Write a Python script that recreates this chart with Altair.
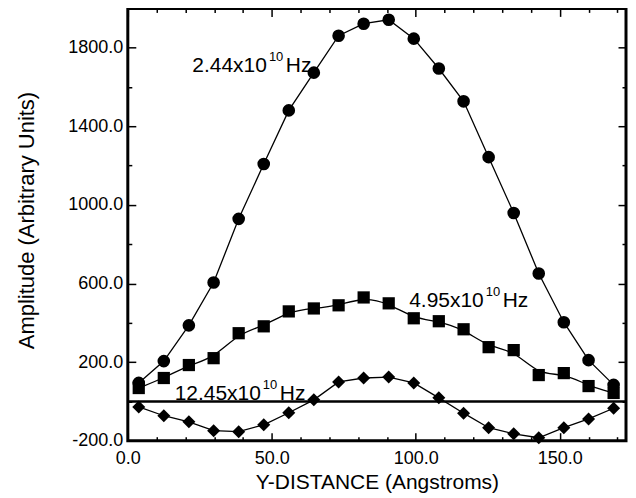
import altair as alt
import pandas as pd

# ---- data ----
x_pos = [3.8, 12.5, 21.2, 29.8, 38.5, 47.2, 55.9, 64.6, 73.2, 81.9,
         90.6, 99.3, 108.0, 116.6, 125.3, 134.0, 142.7, 151.4, 160.0, 168.7]
amp_244 = [94, 205, 387, 605, 929, 1208, 1481, 1673, 1861, 1922,
           1942, 1846, 1694, 1527, 1243, 959, 651, 403, 210, 84]
amp_495 = [68, 119, 185, 220, 347, 382, 458, 473, 489, 529,
           499, 423, 408, 367, 276, 261, 134, 144, 78, 43]
amp_1245 = [-28, -73, -104, -149, -154, -119, -58, 8, 99, 119,
            124, 94, 18, -60, -134, -165, -185, -134, -89, -35]

label_main = ["2.44x10", "4.95x10", "12.45x10"]
label_sup = ["10", "10", "10"]
label_unit = ["Hz", "Hz", "Hz"]
label_x = [48.3, 123.6, 46.2]
label_y = [1678, 478, 8]

x_label_values = [0, 50, 100, 150]
x_tick_values = [0, 10, 20, 30, 40, 50, 60, 70, 80, 90, 100, 110, 120, 130, 140, 150, 160, 170]
y_label_values = [-200, 200, 600, 1000, 1400, 1800]
y_tick_values = [-200, 0, 200, 400, 600, 800, 1000, 1200, 1400, 1600, 1800, 2000]
zero_level = [0]

# ---- layout ----
W, H = 499, 433
FONT = "Liberation Sans"
xs = alt.Scale(domain=[0, 173], nice=False, zero=False)
ys = alt.Scale(domain=[-200, 2000], nice=False, zero=False)

df244 = pd.DataFrame({"x": x_pos, "y": amp_244})
df495 = pd.DataFrame({"x": x_pos, "y": amp_495})
df1245 = pd.DataFrame({"x": x_pos, "y": amp_1245})
dflab = pd.DataFrame({"x": label_x, "y": label_y, "main": label_main,
                      "sup": label_sup, "unit": label_unit})
dfzero = pd.DataFrame({"y": zero_level})

x_major = "datum.value % 50 === 0"
y_major = "(datum.value + 200) % 400 === 0"


def tick_axis(orient, offset, values, test):
    return alt.Axis(orient=orient, offset=offset, values=values, labels=False,
                    domain=False, grid=False, title=None, ticks=True,
                    tickColor="black", tickWidth=1.5,
                    tickSize={"condition": {"test": test, "value": 8}, "value": 4})


main_x_axis = alt.Axis(orient="bottom", values=x_label_values, format=".1f",
                       ticks=False, domain=False, grid=False, labelFlush=False,
                       labelFont=FONT, labelFontSize=18, labelColor="black",
                       labelPadding=9,
                       title="Y-DISTANCE (Angstroms)", titleFont=FONT,
                       titleFontSize=21, titleFontWeight="normal",
                       titleColor="black", titleX=W / 2, titleY=42,
                       titleBaseline="middle")
main_y_axis = alt.Axis(orient="left", values=y_label_values, format=".1f",
                       labelExpr="replace(datum.label, '\u2212', '-')",
                       ticks=False, domain=False, grid=False, labelFlush=False,
                       labelFont=FONT, labelFontSize=18, labelColor="black",
                       labelPadding=5,
                       title="Amplitude (Arbitrary Units)", titleFont=FONT,
                       titleFontSize=22, titleFontWeight="normal",
                       titleColor="black", titleX=-101, titleY=212,
                       titleBaseline="middle")

line_244 = alt.Chart(df244).mark_line(color="black", strokeWidth=1.3).encode(
    x=alt.X("x:Q", scale=xs, axis=main_x_axis),
    y=alt.Y("y:Q", scale=ys, axis=main_y_axis),
)
pts_244 = alt.Chart(df244).mark_point(shape="circle", filled=True, size=160,
                                      color="black", opacity=1).encode(
    x=alt.X("x:Q", scale=xs, axis=tick_axis("top", -H, x_tick_values, x_major)),
    y=alt.Y("y:Q", scale=ys, axis=tick_axis("right", -W, y_tick_values, y_major)),
)
line_495 = alt.Chart(df495).mark_line(color="black", strokeWidth=1.3,
                                      interpolate="basis").encode(
    x=alt.X("x:Q", scale=xs, axis=tick_axis("bottom", -H, x_tick_values, x_major)),
    y=alt.Y("y:Q", scale=ys, axis=tick_axis("left", -W, y_tick_values, y_major)),
)
pts_495 = alt.Chart(df495).mark_point(shape="square", filled=True, size=150,
                                      color="black", opacity=1).encode(
    x=alt.X("x:Q", scale=xs, axis=None),
    y=alt.Y("y:Q", scale=ys, axis=None),
)
line_1245 = alt.Chart(df1245).mark_line(color="black", strokeWidth=1.3).encode(
    x=alt.X("x:Q", scale=xs, axis=None),
    y=alt.Y("y:Q", scale=ys, axis=None),
)
pts_1245 = alt.Chart(df1245).mark_point(shape="diamond", filled=True, size=170,
                                        color="black", opacity=1).encode(
    x=alt.X("x:Q", scale=xs, axis=None),
    y=alt.Y("y:Q", scale=ys, axis=None),
)
zero_rule = alt.Chart(dfzero).mark_rule(color="black", strokeWidth=2.5).encode(
    y=alt.Y("y:Q", scale=ys, axis=None),
)

txt_main = alt.Chart(dflab).mark_text(font=FONT, fontSize=21, color="black",
                                      align="right", baseline="alphabetic").encode(
    x=alt.X("x:Q", scale=xs, axis=None),
    y=alt.Y("y:Q", scale=ys, axis=None),
    text="main:N",
)
txt_sup = alt.Chart(dflab).mark_text(font=FONT, fontSize=13, color="black",
                                     align="left", baseline="alphabetic",
                                     dx=2, dy=-11).encode(
    x=alt.X("x:Q", scale=xs, axis=None),
    y=alt.Y("y:Q", scale=ys, axis=None),
    text="sup:N",
)
txt_unit = alt.Chart(dflab).mark_text(font=FONT, fontSize=21, color="black",
                                      align="left", baseline="alphabetic",
                                      dx=19).encode(
    x=alt.X("x:Q", scale=xs, axis=None),
    y=alt.Y("y:Q", scale=ys, axis=None),
    text="unit:N",
)

chart = alt.layer(
    line_244, pts_244, line_495, pts_495, line_1245, pts_1245, zero_rule,
    txt_main, txt_sup, txt_unit,
).resolve_axis(
    x="independent", y="independent"
).properties(
    width=W, height=H,
    background="white",
    autosize=alt.AutoSizeParams(type="none"),
    padding={"left": 120, "top": 0, "right": 2, "bottom": 55},
).configure_view(
    stroke="black", strokeWidth=3
)

chart.save("out.html", embed_options={"renderer": "svg", "actions": False})
